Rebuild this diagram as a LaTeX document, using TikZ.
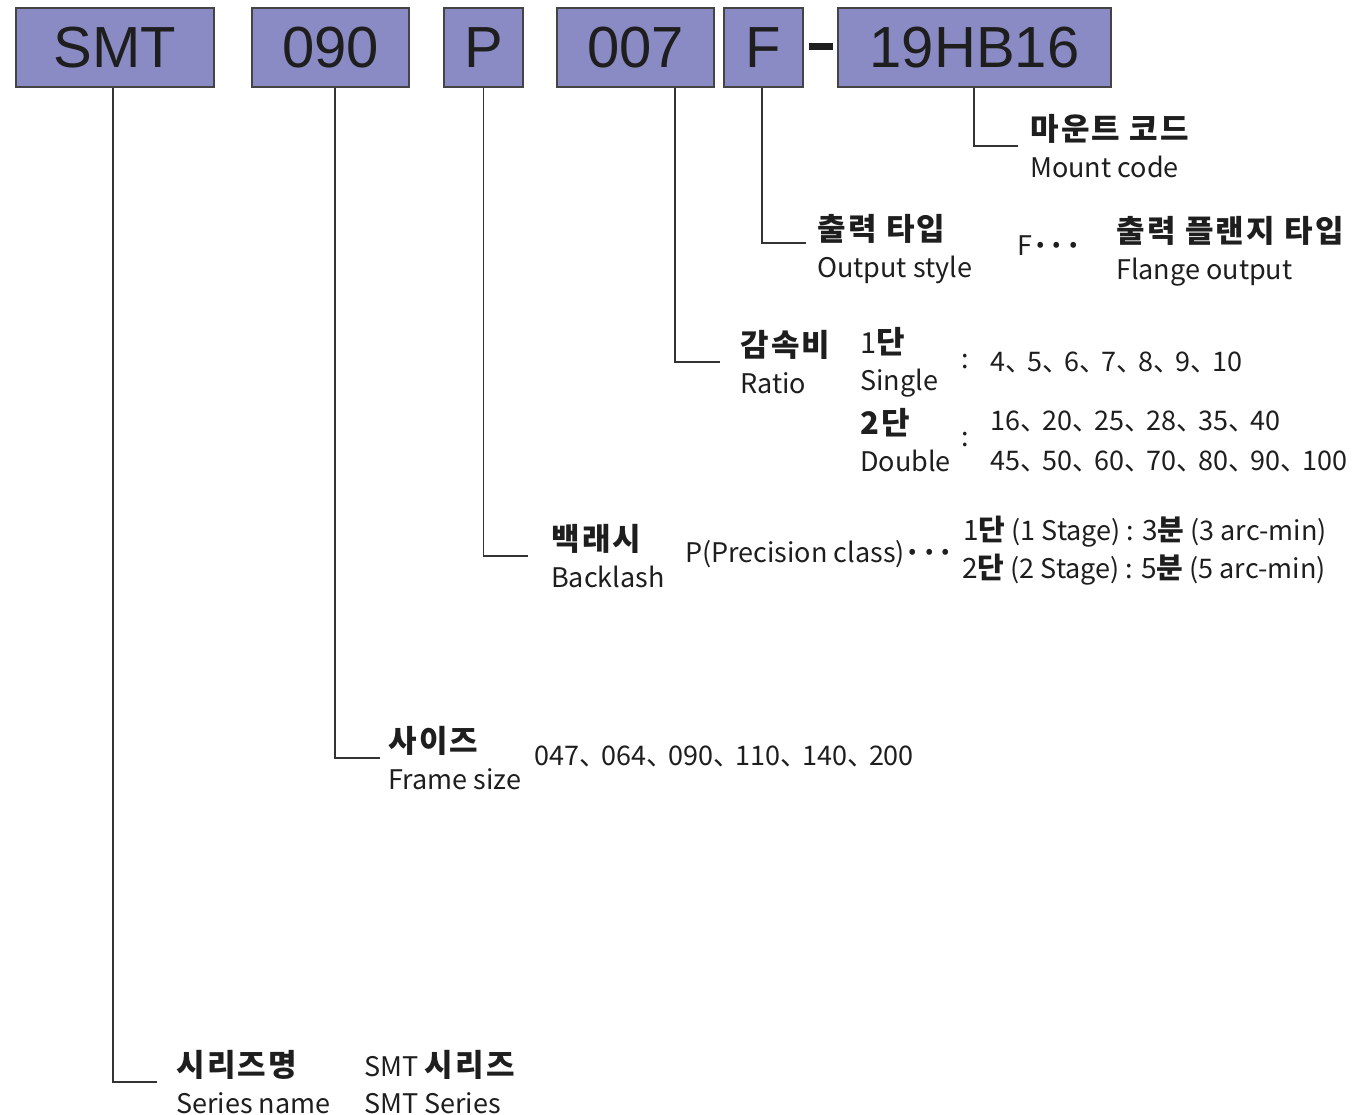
\documentclass[tikz,border=0pt]{standalone}
\usepackage{fontspec}
\setmainfont{Liberation Sans}
\newfontfamily\kr{Noto Sans CJK KR}
\newfontfamily\krb[LetterSpace=7.5]{Noto Sans CJK KR}
\definecolor{boxfill}{HTML}{8A8BC4}
\definecolor{boxline}{HTML}{444444}
\definecolor{linecol}{HTML}{333333}
\definecolor{ink}{HTML}{1E1E1E}
\newcommand\Kb[1]{{\krb\bfseries\fontsize{31}{31}\selectfont #1}}
\newcommand\Kd[1]{{\kr\fontsize{28}{28}\selectfont #1}}
\newcommand\Km[1]{{\kr\bfseries\fontsize{29}{29}\selectfont #1}}
\newcommand\sep{\makebox[22pt][l]{、}}
\begin{document}
\begin{tikzpicture}[x=1pt,y=-1pt,
  codebox/.style={draw=boxline, line width=1.5pt, fill=boxfill, minimum height=79pt, inner sep=0pt,
    font=\fontsize{58}{58}\selectfont, text=ink},
  lbl/.style={anchor=west, inner sep=0pt, align=left, text=ink, font=\kr\fontsize{27}{37}\selectfont},
  txt/.style={anchor=west, inner sep=0pt, text=ink, font=\kr\fontsize{27}{27}\selectfont},
  leader/.style={draw=linecol, line width=1.5pt}]
\useasboundingbox (0,0) rectangle (1359,1115);
% code boxes
\node[codebox, minimum width=198pt] (smt) at (115,47.5) {SMT};
\node[codebox, minimum width=157pt] (size) at (330.5,47.5) {090};
\node[codebox, minimum width=79pt] (prec) at (483.5,47.5) {P};
\node[codebox, minimum width=157pt] (ratio) at (635.5,47.5) {007};
\node[codebox, minimum width=79pt] (outp) at (763.5,47.5) {F};
\node[fill=ink, minimum width=24pt, minimum height=7pt, inner sep=0pt] (dash) at (821,46.5) {};
\node[codebox, minimum width=273pt] (mount) at (974.5,47.5) {19HB16};
% labels
\node[lbl] (mountl) at (1030,146) {\Kb{마운트 코드}\\Mount code};
\node[lbl] (outl) at (817,249) {\Kb{출력 타입}\\Output style};
\node[txt] (fdots) at (1017,246) {F{\bfseries ···}};
\node[lbl] (flange) at (1116,251) {\Kb{출력 플랜지 타입}\\Flange output};
\node[lbl] (ratiol) at (740,362) {\Kb{감속비}\\Ratio};
\node[lbl] (single) at (860,362) {{\kr\fontsize{29}{29}\selectfont 1}\Kb{단}\\Single};
\node[lbl] (double) at (860,440) {\Kb{2단}\\Double};
\node[txt] (c1) at (961,362) {:};
\node[txt] (c2) at (961,440) {:};
\node[txt] (r1) at (990,362) {4\sep 5\sep 6\sep 7\sep 8\sep 9\sep 10};
\node[txt] (r2) at (990,421) {16\sep 20\sep 25\sep 28\sep 35\sep 40};
\node[txt] (r3) at (990,461) {45\sep 50\sep 60\sep 70\sep 80\sep 90\sep 100};
\node[lbl] (backl) at (551,556) {\Kb{백래시}\\Backlash};
\node[txt] (pc) at (685,554) {P(Precision class){\bfseries ···}};
\node[txt] (st1) at (963,532) {\Kd{1}\Km{단}\ (1 Stage) : \Kd{3}\Km{분}\ (3 arc-min)};
\node[txt] (st2) at (962,570) {\Kd{2}\Km{단}\ (2 Stage) : \Kd{5}\Km{분}\ (5 arc-min)};
\node[lbl] (sizel) at (388,758) {\Kb{사이즈}\\Frame size};
\node[txt] (sizes) at (534,756) {047\sep 064\sep 090\sep 110\sep 140\sep 200};
\node[lbl] (serl) at (176,1082) {\Kb{시리즈명}\\Series name};
\node[lbl] (serv) at (364,1082) {SMT \Kb{시리즈}\\SMT Series};
% leaders
\draw[leader] ([xshift=-2pt]smt.south) |- ([xshift=-19pt]serl.west);
\draw[leader] ([xshift=4.5pt]size.south) |- ([xshift=-8pt]sizel.west);
\draw[leader] (prec.south) |- ([xshift=-23pt]backl.west);
\draw[leader] ([xshift=39.5pt]ratio.south) |- ([xshift=-20pt]ratiol.west);
\draw[leader] ([xshift=-1.5pt]outp.south) |- ([xshift=-11pt,yshift=6pt]outl.west);
\draw[leader] ([xshift=-0.5pt]mount.south) |- ([xshift=-12pt]mountl.west);
\end{tikzpicture}
\end{document}
